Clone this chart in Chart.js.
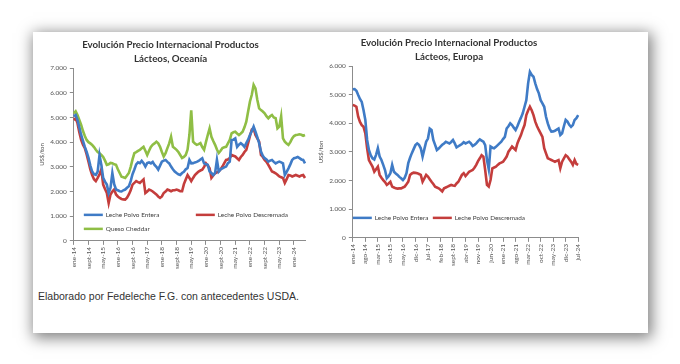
<!DOCTYPE html>
<html>
<head>
<meta charset="utf-8">
<script src="https://cdn.jsdelivr.net/npm/chart.js@4.4.1/dist/chart.umd.min.js"></script>
<style>
html, body { margin: 0; padding: 0; background: #fff; width: 680px; height: 364px; overflow: hidden; }
#marco { position: absolute; left: 33px; top: 32px; width: 615px; height: 301px; background: #fff; box-shadow: 2px 3px 14px 2px rgba(0,0,0,0.5); }
#caja-oce { position: absolute; left: 30px; top: 36px; width: 285px; height: 250px; }
#caja-eur { position: absolute; left: 310px; top: 34px; width: 278px; height: 252px; }
#fuente { position: absolute; left: 38px; top: 290px; font-family: 'Liberation Sans', Arial, sans-serif; font-size: 10.5px; color: #333; }
</style>
</head>
<body>
<div id="marco"></div>
<div id="caja-oce"><canvas id="graf-oce"></canvas></div>
<div id="caja-eur"><canvas id="graf-eur"></canvas></div>
<div id="fuente">Elaborado por Fedeleche F.G. con antecedentes USDA.</div>
<script>
// Meses (ene-14 a jul-24)
const meses = ['ene', 'feb', 'mar', 'abr', 'may', 'jun', 'jul', 'ago', 'sept', 'oct', 'nov', 'dic'];
const etiquetas = [];
for (let a = 14; a <= 24; a++) {
    for (let m = 0; m < 12; m++) {
        if (a === 24 && m > 6) break;
        etiquetas.push(meses[m] + '-' + a);
    }
}

// Oceanía (US$/ton)
const oceEntera = [
    5050, 5100, 4900, 4600, 4290, 4050, 3810, 3600, 3360, 3050,
    2810, 2700, 2670, 2810, 3480, 3080, 2550, 2400, 2280, 1940,
    2150, 2750, 2300, 2080, 2050, 2010, 2000, 2050, 2080, 2150,
    2210, 2420, 2700, 2890, 3100, 3180, 3150, 3240, 3150, 3010,
    3150, 3180, 3140, 3200, 3080, 3000, 2890, 3050, 3210, 3250,
    3280, 3200, 3140, 3010, 2900, 2810, 2750, 2700, 2670, 2750,
    2800, 2900, 2950, 3280, 3140, 3150, 3180, 3200, 3240, 3300,
    3350, 3140, 3100, 3080, 2810, 2750, 2670, 2750, 3280, 2810,
    2900, 2940, 2980, 3010, 3150, 3210, 4090, 4100, 4150, 3810,
    3900, 3960, 3900, 3810, 3960, 4100, 4290, 4450, 4630, 4420,
    4200, 3960, 3620, 3450, 3350, 3300, 3210, 3250, 3280, 3200,
    3140, 3180, 3210, 3180, 3140, 2670, 2800, 2940, 3100, 3280,
    3350, 3370, 3400, 3350, 3300, 3280, 3140
];
const oceDescremada = [
    4900, 4970, 4770, 4400, 4090, 3900, 3760, 3500, 3210, 2900,
    2670, 2500, 2420, 2550, 2700, 2900, 2280, 2100, 1940, 1530,
    1880, 2000, 2080, 1880, 1800, 1740, 1700, 1680, 1670, 1750,
    1880, 2050, 2280, 2350, 2420, 2380, 2350, 2420, 2490, 1940,
    2000, 2080, 2050, 2000, 1940, 1880, 1800, 1740, 1800, 1940,
    2000, 2080, 2050, 2010, 2050, 2050, 2080, 2050, 2010, 2010,
    2300, 2490, 2670, 2550, 2420, 2550, 2670, 2740, 2810, 2850,
    2880, 3000, 3140, 3050, 2940, 2550, 2650, 2740, 2780, 2810,
    2900, 3010, 3150, 3280, 3300, 3350, 3480, 3450, 3420, 3350,
    3280, 3400, 3480, 3600, 3690, 3960, 4250, 4510, 4560, 4290,
    4150, 4020, 3480, 3400, 3280, 3200, 3080, 2950, 2810, 2780,
    2740, 2680, 2610, 2580, 2550, 2350, 2500, 2670, 2650, 2610,
    2640, 2670, 2640, 2610, 2650, 2670, 2550
];
const oceCheddar = [
    5170, 5250, 5100, 4900, 4700, 4450, 4250, 4090, 4000, 3950,
    3890, 3800, 3690, 3600, 3550, 3480, 3400, 3250, 3080, 3100,
    3160, 3150, 3100, 3080, 2900, 2750, 2600, 2580, 2550, 2650,
    2750, 3000, 3300, 3560, 3600, 3650, 3690, 3750, 3810, 3650,
    3480, 3650, 3810, 3900, 3950, 4020, 3950, 3810, 3600, 3420,
    3550, 3760, 3950, 4220, 3810, 3750, 3690, 3600, 3480, 3360,
    3400, 3480, 3700, 4290, 5290, 4020, 3950, 3890, 3920, 3960,
    3800, 3690, 4000, 4290, 4560, 4220, 4050, 3890, 3700, 3560,
    3650, 3760, 3790, 3810, 3950, 4090, 4360, 4400, 4420, 4350,
    4290, 4350, 4420, 4600, 4830, 5240, 5650, 5920, 6320, 6180,
    5720, 5370, 5300, 5240, 5170, 5050, 4970, 5050, 5100, 5000,
    4970, 4560, 4630, 5050, 4150, 4020, 3950, 3890, 4000, 4150,
    4250, 4290, 4300, 4320, 4300, 4260, 4290
];

// Europa (US$/ton)
const eurEntera = [
    5190, 5200, 5140, 4990, 4850, 4750, 4460, 4120, 3420, 3070,
    2890, 2780, 2740, 2900, 3130, 2840, 2720, 2550, 2370, 2080,
    2150, 2260, 2550, 2310, 2250, 2200, 2130, 2080, 2020, 2100,
    2260, 2610, 2800, 2960, 3100, 3240, 3300, 3250, 3130, 2840,
    3100, 3360, 3470, 3820, 3770, 3420, 3250, 3070, 3120, 3190,
    3250, 3300, 3360, 3330, 3300, 3350, 3420, 3300, 3160, 3200,
    3240, 3280, 3340, 3300, 3330, 3360, 3300, 3210, 3250, 3300,
    3380, 3440, 3400, 3360, 3240, 2720, 2400, 3190, 3150, 3130,
    3180, 3240, 3300, 3360, 3450, 3530, 3820, 3900, 4000, 3940,
    3850, 3770, 3900, 4060, 4200, 4350, 4580, 4810, 5400, 5800,
    5690, 5630, 5400, 5200, 5050, 4810, 4700, 4580, 4230, 4000,
    3820, 3710, 3720, 3740, 3780, 3820, 3590, 3650, 3900, 4120,
    4060, 3950, 3880, 3940, 4120, 4180, 4290
];
const eurDescremada = [
    4640, 4620, 4580, 4230, 4050, 3940, 3880, 3650, 3130, 2720,
    2600, 2490, 2310, 2400, 2490, 2200, 2100, 2020, 1950, 1850,
    1900, 1960, 1790, 1760, 1730, 1720, 1730, 1730, 1760, 1790,
    1870, 1960, 2200, 2250, 2280, 2270, 2260, 2230, 2200, 1960,
    2080, 2200, 2140, 2050, 1960, 1880, 1790, 1760, 1730, 1680,
    1620, 1730, 1760, 1790, 1820, 1850, 1830, 1820, 1900, 1960,
    2080, 2200, 2260, 2160, 2230, 2310, 2340, 2370, 2450, 2550,
    2680, 2780, 2890, 2840, 2370, 1850, 1790, 2020, 2430, 2460,
    2490, 2550, 2600, 2630, 2660, 2750, 2840, 3010, 3100, 3190,
    3130, 3070, 3300, 3450, 3590, 3780, 3940, 4290, 4450, 4580,
    4460, 4290, 4060, 3900, 3770, 3650, 3530, 3130, 2950, 2780,
    2750, 2720, 2690, 2660, 2690, 2720, 2430, 2660, 2780, 2890,
    2840, 2750, 2660, 2550, 2720, 2580, 2550
];

const AZUL = '#3f7bc6';
const ROJO = '#c43d3c';
const VERDE = '#8fbe45';
const FUENTE = "Lato, 'Liberation Sans', sans-serif";

// Leyenda dentro del área del gráfico (como en Excel)
const leyendaInterna = {
    id: 'leyendaInterna',
    afterDatasetsDraw(chart, args, opts) {
        const ctx = chart.ctx;
        const area = chart.chartArea;
        ctx.save();
        ctx.font = '6.4px ' + FUENTE;
        ctx.textBaseline = 'middle';
        chart.data.datasets.forEach((ds, i) => {
            const p = opts.posiciones[i];
            const x = area.left + p[0];
            const y = area.bottom + p[1];
            ctx.strokeStyle = ds.borderColor;
            ctx.lineWidth = 2.5;
            ctx.beginPath();
            ctx.moveTo(x, y);
            ctx.lineTo(x + 19, y);
            ctx.stroke();
            ctx.fillStyle = '#404040';
            ctx.fillText(ds.label, x + 22, y);
        });
        ctx.restore();
    }
};

function formatoMiles(v) {
    return v === 0 ? '0' : (v / 1000).toFixed(3);
}

function crearGrafico(id, titulo, series, maxY, salto, posiciones, padding) {
    const ctx = document.getElementById(id).getContext('2d');
    return new Chart(ctx, {
        type: 'line',
        data: {
            labels: etiquetas,
            datasets: series.map(s => ({
                label: s.nombre,
                data: s.datos,
                borderColor: s.color,
                backgroundColor: s.color,
                borderWidth: 2.6,
                pointRadius: 0,
                tension: 0
            }))
        },
        options: {
            responsive: true,
            maintainAspectRatio: false,
            animation: false,
            layout: { padding: padding },
            plugins: {
                legend: { display: false },
                tooltip: { enabled: false },
                title: {
                    display: true,
                    text: titulo,
                    color: '#333',
                    font: { family: FUENTE, size: 9.7, weight: 'bold', lineHeight: 1.45 },
                    padding: { top: 0, bottom: 2 }
                },
                leyendaInterna: { posiciones: posiciones }
            },
            scales: {
                x: {
                    offset: false,
                    grid: { drawOnChartArea: false, tickLength: 4, color: '#8c8c8c' },
                    border: { color: '#8c8c8c' },
                    ticks: {
                        autoSkip: false,
                        maxRotation: 90,
                        minRotation: 90,
                        padding: 2,
                        color: '#555',
                        font: { family: FUENTE, size: 6.5 },
                        callback: (v, i) => (i % salto === 0 ? etiquetas[i] : null)
                    }
                },
                y: {
                    min: 0,
                    max: maxY,
                    grid: { drawOnChartArea: false, tickLength: 4, color: '#8c8c8c' },
                    border: { color: '#8c8c8c' },
                    title: {
                        display: true,
                        text: 'US$/ton',
                        color: '#555',
                        font: { family: FUENTE, size: 6 },
                        padding: 2
                    },
                    ticks: {
                        stepSize: 1000,
                        padding: 3,
                        color: '#555',
                        font: { family: FUENTE, size: 6.5 },
                        callback: v => formatoMiles(v)
                    }
                }
            }
        },
        plugins: [leyendaInterna]
    });
}

document.addEventListener('DOMContentLoaded', () => {
    crearGrafico('graf-oce',
        ['Evolución Precio Internacional Productos', 'Lácteos, Oceanía'],
        [
            { nombre: 'Leche Polvo Entera', datos: oceEntera, color: AZUL },
            { nombre: 'Leche Polvo Descremada', datos: oceDescremada, color: ROJO },
            { nombre: 'Queso Cheddar', datos: oceCheddar, color: VERDE }
        ],
        7000, 8,
        [[10, -26], [122, -26], [10, -12]],
        { left: 6, right: 10, top: 2, bottom: 15 });

    crearGrafico('graf-eur',
        ['Evolución Precio Internacional Productos', 'Lácteos, Europa'],
        [
            { nombre: 'Leche Polvo Entera', datos: eurEntera, color: AZUL },
            { nombre: 'Leche Polvo Descremada', datos: eurDescremada, color: ROJO }
        ],
        6000, 7,
        [[0, -20], [80, -20]],
        { left: 5, right: 5, top: 2, bottom: 18 });
});
</script>
</body>
</html>
